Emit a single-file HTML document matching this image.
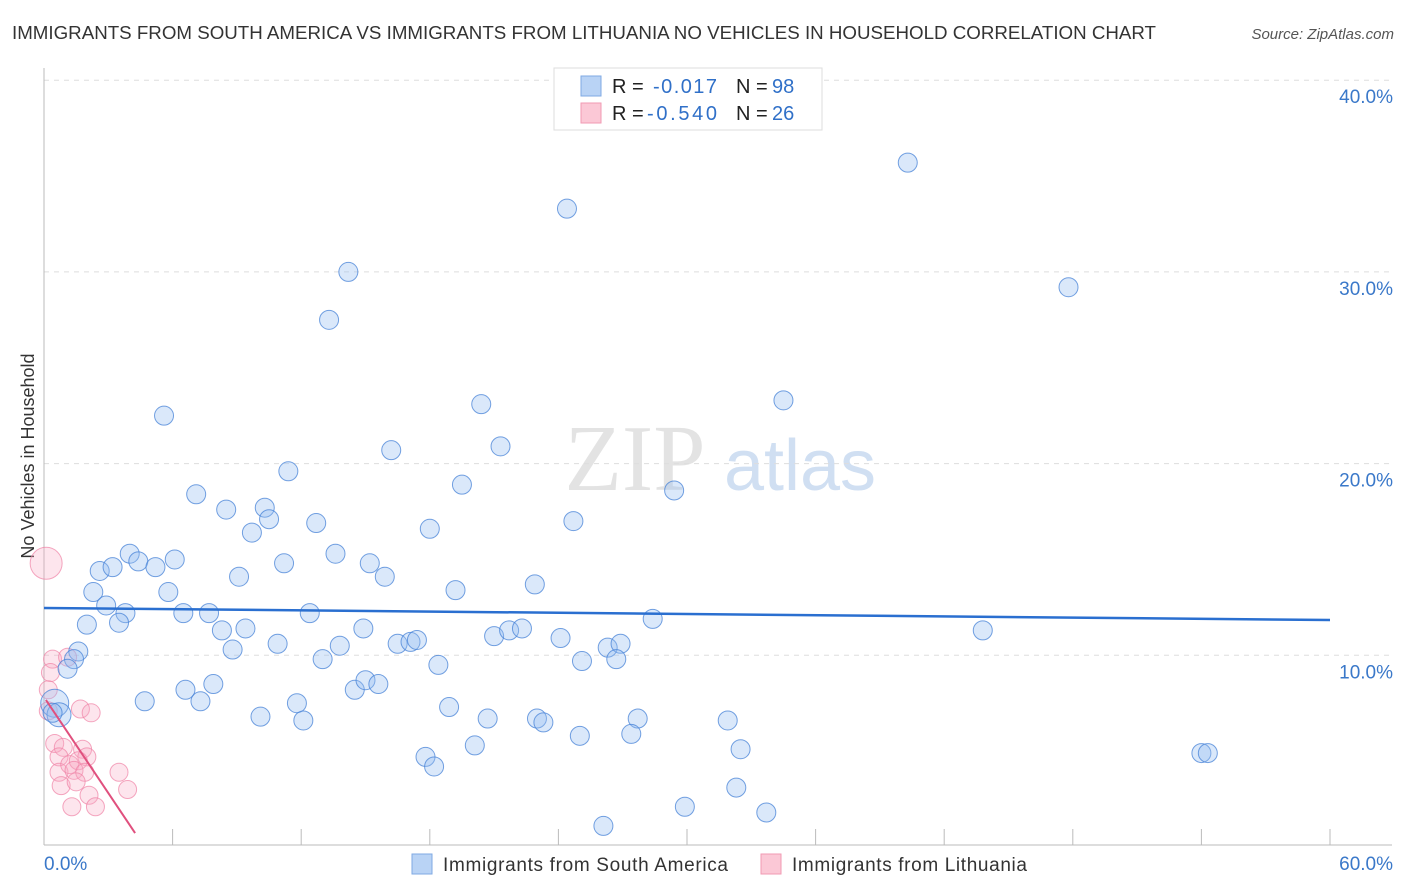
<!DOCTYPE html>
<html><head><meta charset="utf-8"><style>
body{margin:0;background:#fff;font-family:"Liberation Sans",sans-serif;}
#wrap{position:relative;width:1406px;height:892px;overflow:hidden;}
</style></head><body>
<div id="wrap">
<svg id="svg" width="1406" height="892" xmlns="http://www.w3.org/2000/svg">
<text x="12" y="39" font-size="18" fill="#333" textLength="1144" lengthAdjust="spacingAndGlyphs">IMMIGRANTS FROM SOUTH AMERICA VS IMMIGRANTS FROM LITHUANIA NO VEHICLES IN HOUSEHOLD CORRELATION CHART</text>
<text x="1394" y="39" font-size="15" fill="#555" font-style="italic" text-anchor="end">Source: ZipAtlas.com</text>
<text x="34" y="456" font-size="18" fill="#333" text-anchor="middle" transform="rotate(-90 34 456)">No Vehicles in Household</text>
<g><text x="635" y="490" font-size="94" fill="#ddd" font-family="Liberation Serif,serif" text-anchor="middle" opacity="0.8">ZIP</text><text x="800" y="490" font-size="72" fill="#c5d8f0" text-anchor="middle" opacity="0.8">atlas</text></g>
<g id="grid"></g><g id="axes"></g><g id="pts"></g><g id="trend"></g>
<g>
<rect x="554" y="68" width="268" height="62" fill="#fff" stroke="#ddd"/>
<rect x="581" y="76" width="20" height="20" fill="#b9d3f5" stroke="#7fa9e3"/>
<rect x="581" y="103" width="20" height="20" fill="#fbc8d6" stroke="#f09ab3"/>
<text x="612" y="93" font-size="20" fill="#222">R =</text>
<text x="653" y="93" font-size="20" fill="#3070c8" textLength="64">-0.017</text>
<text x="736" y="93" font-size="20" fill="#222">N =</text>
<text x="772" y="93" font-size="20" fill="#3070c8">98</text>
<text x="612" y="120" font-size="20" fill="#222">R =</text>
<text x="647" y="120" font-size="20" fill="#3070c8" textLength="70">-0.540</text>
<text x="736" y="120" font-size="20" fill="#222">N =</text>
<text x="772" y="120" font-size="20" fill="#3070c8">26</text>
</g>
<g>
<rect x="412" y="854" width="20" height="20" fill="#b9d3f5" stroke="#7fa9e3"/>
<text x="443" y="871" font-size="19" fill="#333" textLength="285">Immigrants from South America</text>
<rect x="761" y="854" width="20" height="20" fill="#fbc8d6" stroke="#f09ab3"/>
<text x="792" y="871" font-size="19" fill="#333" textLength="235">Immigrants from Lithuania</text>
</g>
</svg></div>
<script>
const blueX=[24.4,40.3,14.2,47.8,13.3,5.6,20.4,34.5,16.2,21.3,11.4,19.5,29.4,7.1,8.5,10.3,10.5,12.7,18.0,24.7,9.7,4.0,4.4,6.1,5.2,2.6,3.2,13.6,11.2,15.2,9.1,15.9,2.3,2.9,5.8,19.2,22.9,3.8,6.5,7.7,12.4,2.0,3.5,8.3,9.4,14.9,28.4,43.8,21.0,21.7,22.3,24.1,16.5,17.1,17.4,10.9,8.8,13.8,26.3,26.9,1.6,1.4,1.1,13.0,18.4,25.1,26.7,6.6,7.9,14.5,15.0,15.6,4.7,7.3,11.8,18.9,10.1,12.1,20.7,23.0,23.3,27.7,31.9,0.5,0.7,0.4,25.0,27.4,20.1,32.5,17.8,18.2,54.0,54.3,32.3,29.9,33.7,26.1];
const blueY=[33.3,35.7,30.0,29.2,27.5,22.5,23.1,23.3,20.7,20.9,19.6,18.9,18.6,18.4,17.6,17.7,17.1,16.9,16.6,17.0,16.4,15.3,14.9,15.0,14.6,14.4,14.6,15.3,14.8,14.8,14.1,14.1,13.3,12.6,13.3,13.4,13.7,12.2,12.2,12.2,12.2,11.6,11.7,11.3,11.4,11.4,11.9,11.3,11.0,11.3,11.4,10.9,10.6,10.7,10.8,10.6,10.3,10.5,10.4,10.6,10.2,9.8,9.3,9.8,9.5,9.7,9.8,8.2,8.5,8.2,8.7,8.5,7.6,7.6,7.5,7.3,6.8,6.6,6.7,6.7,6.5,6.7,6.6,7.5,6.9,7.0,5.8,5.9,5.3,5.1,4.7,4.2,4.9,4.9,3.1,2.1,1.8,1.1];
const pinkX=[0.1,0.4,0.3,0.2,0.2,1.7,2.2,0.5,0.9,0.7,1.8,2.0,0.7,1.2,1.6,1.4,1.9,0.8,1.5,3.5,3.9,2.1,2.4,1.3,1.1];
const pinkY=[14.8,9.8,9.1,8.2,7.1,7.2,7.0,5.4,5.2,4.7,5.1,4.7,3.9,4.3,4.5,4.0,3.9,3.2,3.4,3.9,3.0,2.7,2.1,2.1,9.9];
const blueTrend=[0,12.47,60,11.84];
const pinkTrend=[0.09,7.67,4.25,0.73];
const yTicks=[10,20,30,40];
const xTickVals=[0,6,12,18,24,30,36,42,48,54,60];
const X=v=>44+v/60*1286, Y=v=>847-v*19.17;
const NS="http://www.w3.org/2000/svg";
function mk(tag,attrs,parent){const e=document.createElementNS(NS,tag);for(const k in attrs)e.setAttribute(k,attrs[k]);document.getElementById(parent).appendChild(e);return e;}
yTicks.forEach(t=>{
 const l=mk('line',{x1:44,x2:1392,y1:Y(t),y2:Y(t),stroke:'#ddd','stroke-dasharray':'5,5'},'grid');
 
 
 const tx=mk('text',{x:1393,y:Y(t)+23,'font-size':19,fill:'#3a78c9','text-anchor':'end'},'grid');
 tx.textContent=t.toFixed(1)+'%';
 
 
});
let a=mk('line',{x1:44,x2:44,y1:68,y2:845,stroke:'#bbb'},'axes');


a=mk('line',{x1:44,x2:1392,y1:845,y2:845,stroke:'#bbb'},'axes');


xTickVals.forEach(t=>{
 const l=mk('line',{x1:X(t),x2:X(t),y1:829,y2:845,stroke:'#bbb'},'axes');
 
 
});
[[0,'0.0%','start',44],[60,'60.0%','end',1393]].forEach(d=>{
 const tx=mk('text',{x:d[3],y:870,'font-size':19,fill:'#3a78c9','text-anchor':d[2]},'axes');
 tx.textContent=d[1];
 
 
});
pinkX.forEach((x,i)=>{
 const r=i===0?16:9;
 const c=mk('circle',{cx:X(x),cy:Y(pinkY[i]),r:r,fill:'rgba(248,170,195,0.3)',stroke:'rgba(240,130,165,0.7)','stroke-width':1},'pts');
 
 
});
blueX.forEach((x,i)=>{
 const r=(i===83)?14:(i===84?12:9.5);
 const c=mk('circle',{cx:X(x),cy:Y(blueY[i]),r:r,fill:'rgba(150,190,240,0.35)',stroke:'rgba(70,130,215,0.75)','stroke-width':1},'pts');
 
 
});
let t=mk('line',{x1:X(blueTrend[0]),y1:Y(blueTrend[1]),x2:X(blueTrend[2]),y2:Y(blueTrend[3]),stroke:'#2a6fd0','stroke-width':2.5},'trend');


t=mk('line',{x1:X(pinkTrend[0]),y1:Y(pinkTrend[1]),x2:X(pinkTrend[2]),y2:Y(pinkTrend[3]),stroke:'#e0507e','stroke-width':2},'trend');


</script>
</body></html>
